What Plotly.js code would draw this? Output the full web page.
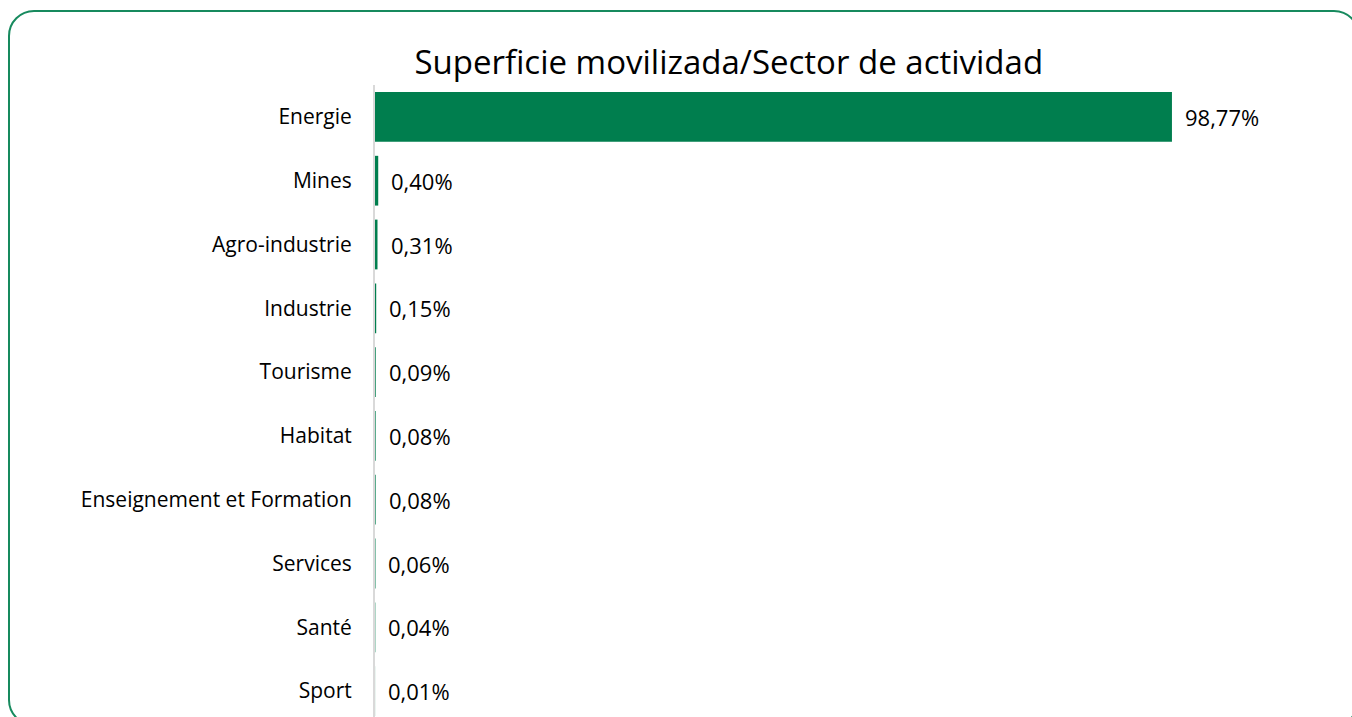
<!DOCTYPE html>
<html>
<head>
<meta charset="utf-8">
<script src="https://cdn.plot.ly/plotly-3.0.1.min.js"></script>
<style>
  html, body { margin: 0; padding: 0; background: #ffffff; overflow: hidden; }
  #frame {
    position: absolute; left: 8px; top: 10px; width: 1352px; height: 716px;
    border: 2.5px solid #178A5E; border-radius: 26px; box-sizing: border-box;
  }
  #chart { position: absolute; left: 0; top: 0; width: 1352px; height: 717px; }
</style>
</head>
<body>
<div id="frame"></div>
<div id="chart"></div>
<script>
const categories = ["Energie", "Mines", "Agro-industrie", "Industrie", "Tourisme", "Habitat",
  "Enseignement et Formation", "Services", "Santé", "Sport"];
const values = [98.77, 0.40, 0.31, 0.15, 0.09, 0.08, 0.08, 0.06, 0.04, 0.01];
const labels = ["98,77%", "0,40%", "0,31%", "0,15%", "0,09%", "0,08%", "0,08%", "0,06%", "0,04%", "0,01%"];
const chartTitle = "Superficie movilizada/Sector de actividad";

const FONT = "'Open Sans', Lato, sans-serif";

const trace = {
  type: "bar",
  orientation: "h",
  x: values,
  y: categories,
  marker: { color: "#007E4E" },
  width: 0.78,
  hoverinfo: "skip"
};

const annotations = values.map((v, i) => ({
  x: v, y: categories[i], xref: "x", yref: "y",
  text: labels[i], showarrow: false, xanchor: "left", yanchor: "middle",
  xshift: 11, font: { family: FONT, size: 22, color: "#000000" }
}));

const layout = {
  width: 1352, height: 717,
  paper_bgcolor: "rgba(0,0,0,0)", plot_bgcolor: "rgba(0,0,0,0)",
  margin: { l: 375, r: 62, t: 85, b: 0 },
  showlegend: false,
  title: {
    text: chartTitle, x: 0.539, xanchor: "center", xref: "container",
    y: 0.9135, yanchor: "middle", yref: "container",
    font: { family: FONT, size: 33, color: "#000000" }
  },
  xaxis: {
    range: [0, 113.4], showgrid: false, zeroline: false, showline: false,
    showticklabels: false, ticks: "", fixedrange: true
  },
  yaxis: {
    type: "category", categoryorder: "array", categoryarray: categories,
    range: [9.406, -0.5], showgrid: false, zeroline: false,
    showline: true, linecolor: "#D9D9D9", linewidth: 2,
    ticks: "", ticklabelstandoff: 17,
    tickfont: { family: FONT, size: 21, color: "#000000" }, fixedrange: true
  },
  annotations: annotations
};

Plotly.newPlot("chart", [trace], layout, { displayModeBar: false, staticPlot: true });
</script>
</body>
</html>
